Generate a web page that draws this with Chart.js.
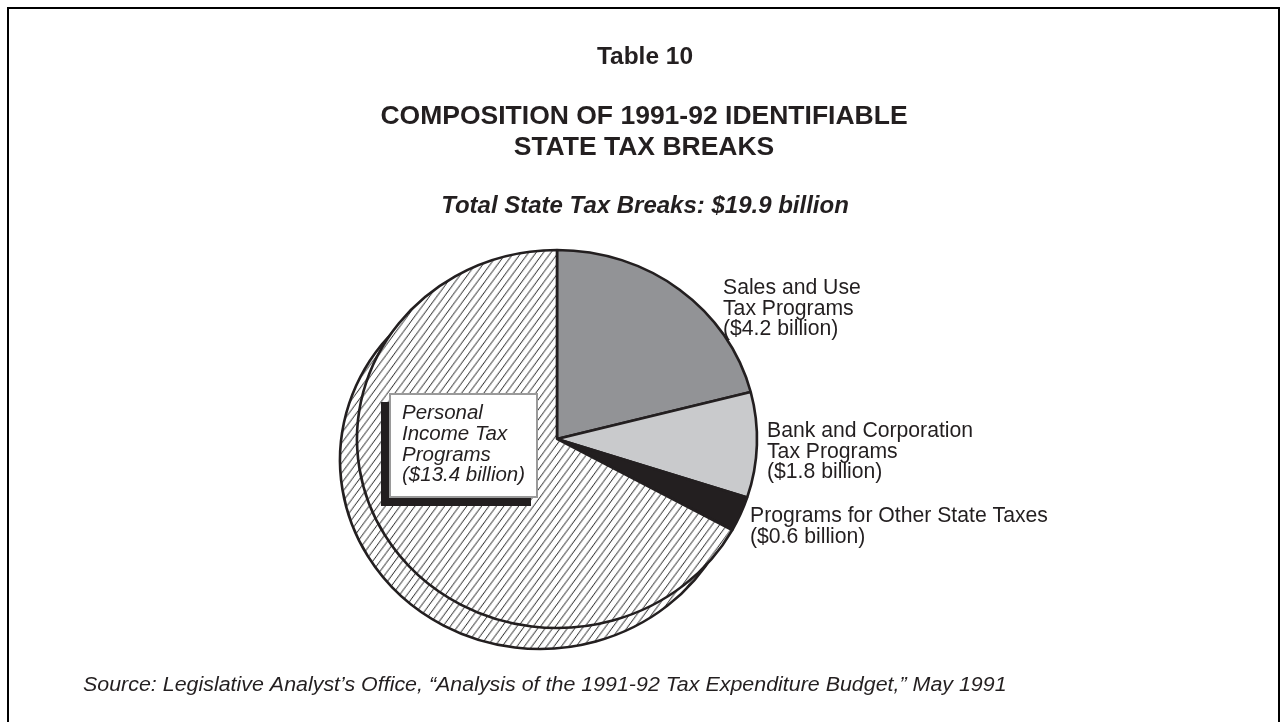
<!DOCTYPE html>
<html>
<head>
<meta charset="utf-8">
<title>Composition of 1991-92 Identifiable State Tax Breaks</title>
<script src="https://cdn.jsdelivr.net/npm/chart.js@4"></script>
<style>
  html, body { margin: 0; padding: 0; background: #fff; }
  #wrap { position: relative; width: 1280px; height: 722px; overflow: hidden; }
  #frame { position: absolute; left: 7px; top: 7px; width: 1269px; height: 800px; border: 2px solid #000; }
  #wrap canvas { position: absolute; left: 0; top: 0; }
</style>
</head>
<body>
<div id="wrap">
  <div id="frame"></div>
  <canvas id="pie"></canvas>
</div>
<script>
// program groups, clockwise from 12 o'clock
const categories = ['Sales and Use Tax Programs', 'Bank and Corporation Tax Programs',
                    'Programs for Other State Taxes', 'Personal Income Tax Programs'];
const billions = [4.2, 1.8, 0.6, 13.4];
const labelLines = [
  ['Sales and Use', 'Tax Programs'],
  ['Bank and Corporation', 'Tax Programs'],
  ['Programs for Other State Taxes'],
  ['Personal', 'Income Tax', 'Programs']
];
const tableNo = 'Table 10';
const titleLines = ['COMPOSITION OF 1991-92 IDENTIFIABLE', 'STATE TAX BREAKS'];
const totalLine = 'Total State Tax Breaks: $19.9 billion';
const sourceLine = 'Source: Legislative Analyst\u2019s Office, \u201cAnalysis of the 1991-92 Tax Expenditure Budget,\u201d May 1991';

const INK = '#231f20';
const FONT = '"Liberation Sans", Arial, sans-serif';
const stretchX = 200 / 189;   // pie is a slightly wide oval

function hatchPattern(ctx) {
  const c = document.createElement('canvas');
  c.width = 7; c.height = 10;
  const g = c.getContext('2d');
  g.fillStyle = '#fff';
  g.fillRect(0, 0, 7, 10);
  g.strokeStyle = '#2a2a2a';
  g.lineWidth = 1;
  g.beginPath();
  for (const dx of [-7, 0, 7]) {
    g.moveTo(dx, 10);
    g.lineTo(dx + 7, 0);
  }
  g.stroke();
  return ctx.createPattern(c, 'repeat');
}

const money = v => '($' + v.toFixed(1) + ' billion)';

// oval pie plus a shifted copy of the big slice underneath for depth
const ovalPie = {
  id: 'ovalPie',
  beforeDatasetsDraw(chart) {
    const ctx = chart.ctx;
    const arcs = chart.getDatasetMeta(0).data;
    const { x, y } = arcs[0];
    ctx.save();
    ctx.translate(x, y);
    ctx.scale(stretchX, 1);
    ctx.translate(-x, -y);
    ctx.save();
    ctx.translate(-17 / stretchX, 21);
    arcs[3].draw(ctx);
    ctx.restore();
  },
  afterDatasetsDraw(chart) {
    chart.ctx.restore();
  }
};

const textLayer = {
  id: 'textLayer',
  afterDraw(chart) {
    const ctx = chart.ctx;
    ctx.save();
    ctx.fillStyle = INK;
    ctx.textBaseline = 'alphabetic';

    // headings
    ctx.textAlign = 'center';
    ctx.font = 'bold 24.5px ' + FONT;
    ctx.fillText(tableNo, 645, 64);
    ctx.font = 'bold 26.5px ' + FONT;
    ctx.fillText(titleLines[0], 644, 124);
    ctx.fillText(titleLines[1], 644, 155);
    ctx.font = 'italic bold 24px ' + FONT;
    ctx.fillText(totalLine, 645, 213);

    // slice labels
    ctx.textAlign = 'left';
    ctx.font = '21.2px ' + FONT;
    const spots = [[723, 294], [767, 437], [750, 522]];
    spots.forEach(([lx, ly], i) => {
      const lines = labelLines[i].concat(money(billions[i]));
      lines.forEach((t, k) => ctx.fillText(t, lx, ly + k * 20.5));
    });

    // boxed label for the big slice
    ctx.fillStyle = INK;
    ctx.fillRect(381, 402, 150, 104);
    ctx.fillStyle = '#fff';
    ctx.fillRect(389, 393, 149, 105);
    ctx.strokeStyle = '#9a9a9a';
    ctx.lineWidth = 2;
    ctx.strokeRect(390, 394, 147, 103);
    ctx.fillStyle = INK;
    ctx.font = 'italic 20.5px ' + FONT;
    labelLines[3].concat(money(billions[3])).forEach((t, k) => ctx.fillText(t, 402, 419 + k * 20.8));

    // source note, set a little wide
    ctx.font = 'italic 19.5px ' + FONT;
    ctx.translate(83, 691);
    ctx.scale(1.098, 1);
    ctx.fillText(sourceLine, 0, 0);
    ctx.restore();
  }
};

const canvas = document.getElementById('pie');
const hatch = hatchPattern(canvas.getContext('2d'));

new Chart(canvas, {
  type: 'pie',
  data: {
    labels: categories,
    datasets: [{
      data: billions,
      backgroundColor: ['#929396', '#c9cacc', INK, hatch],
      borderColor: INK,
      borderWidth: 2.5
    }]
  },
  options: {
    responsive: true,
    maintainAspectRatio: false,
    animation: false,
    events: [],
    radius: 189,
    layout: { padding: { left: 0, right: 166, top: 156, bottom: 0 } },
    plugins: {
      legend: { display: false },
      tooltip: { enabled: false }
    }
  },
  plugins: [ovalPie, textLayer]
});
</script>
</body>
</html>
